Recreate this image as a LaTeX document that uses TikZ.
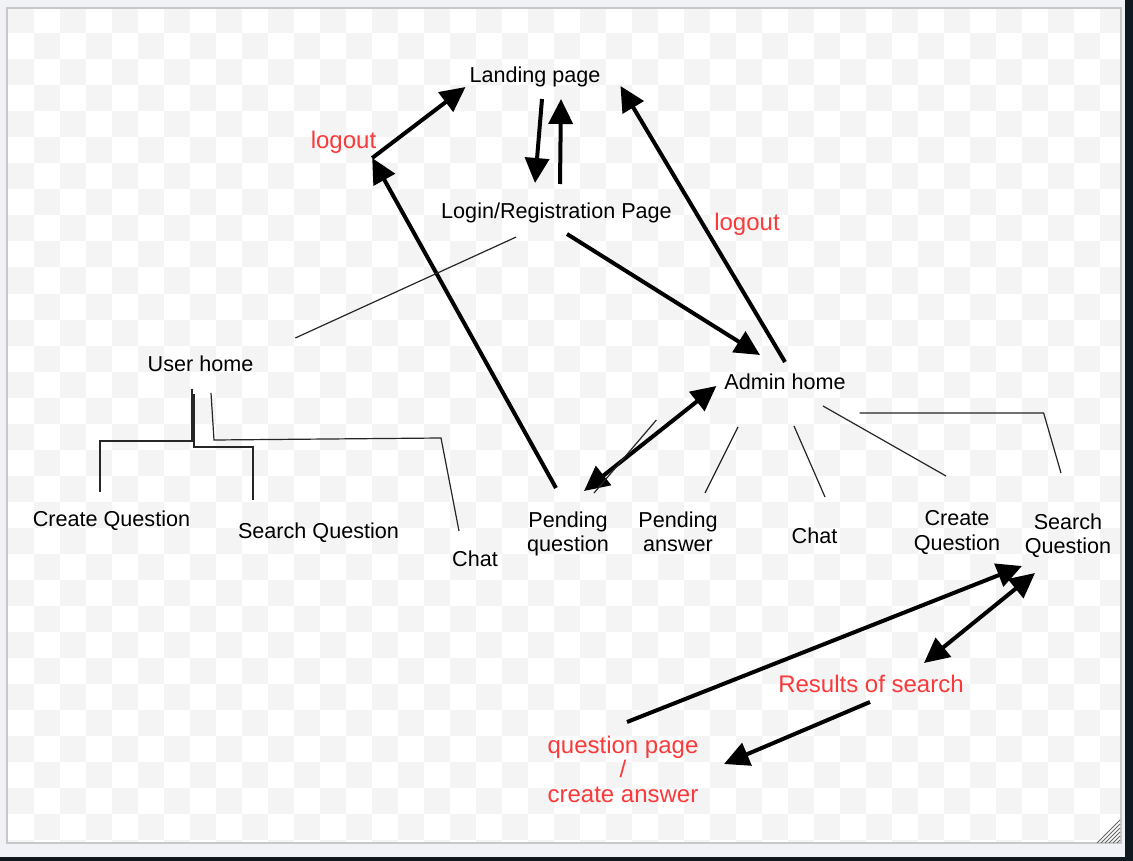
\documentclass[tikz,border=0pt]{standalone}
\usepackage{fontspec}
\setmainfont{Liberation Sans}
\usepackage{xcolor}
\usetikzlibrary{arrows.meta}

\begin{document}
\begin{tikzpicture}[x=1pt, y=-1pt,
    every node/.style={font=\fontsize{21.6pt}{24.5pt}\selectfont, inner sep=0pt, outer sep=0pt},
    page/.style={anchor=base, text height=15.5pt, text depth=4.5pt},
    pagetwo/.style={anchor=north, align=center},
    note/.style={page, text=notered, font=\fontsize{24pt}{24.5pt}\selectfont},
    flow/.style={line width=4pt, -{Triangle[length=25pt,width=24pt]}},
    twoway/.style={line width=4pt, {Triangle[length=25pt,width=24pt]}-{Triangle[length=25pt,width=24pt]}},
    link/.style={line width=1.2pt, black!85}]
    % Define colors
    \definecolor{notered}{RGB}{250,58,58}
    \definecolor{outerbg}{RGB}{241,242,245}
    \definecolor{darkedge}{RGB}{16,24,32}
    \definecolor{framegray}{RGB}{200,200,200}
    \definecolor{checkgray}{RGB}{244,244,244}

    \useasboundingbox (0,0) rectangle (1133,861);

    % Window background and frame
    \fill[outerbg] (0,0) rectangle (1133,861);
    \fill[darkedge] (1125,0) rectangle (1133,861);
    \fill[darkedge] (0,857) rectangle (1133,861);
    \fill[white] (7,8) rectangle (1121,843);

    % Checkerboard canvas
    \begin{scope}
        \clip (7,8) rectangle (1121,843);
        \foreach \i in {0,...,42} {
            \pgfmathtruncatemacro{\odd}{mod(\i,2)}
            \foreach \j in {0,2,...,32} {
                \fill[checkgray] ({7.5+26*\i},{7.5+26*(\j+\odd)}) rectangle +(26,26);
            }
        }
    \end{scope}
    \draw[framegray, line width=1.5pt] (7,8) rectangle (1121,843);

    % Resize grip
    \foreach \k in {0,...,5} {
        \draw[black!60, line width=1pt] (1120,{820+4*\k}) -- ({1097+4*\k},843);
    }

    % Top pages
    \node[page] (landing) at (535,83) {Landing page};
    \node[page] (login) at (556.5,219) {Login/Registration Page};
    \node[note] (logoutleft) at (343.5,149) {logout};
    \node[note] (logoutright) at (747,231) {logout};

    % Home pages
    \node[page] (userhome) at (200.5,371) {User home};
    \node[page] (adminhome) at (785,389) {Admin home};

    % User home children
    \node[page] (usercreate) at (111.5,526) {Create Question};
    \node[page] (usersearch) at (318.5,538) {Search Question};
    \node[page] (userchat) at (475,566) {Chat};

    % Admin home children
    \node[pagetwo] (pendq) at (568,511.5) {Pending\\question};
    \node[pagetwo] (penda) at (678,511.5) {Pending\\answer};
    \node[page] (adminchat) at (814.5,543) {Chat};
    \node[pagetwo] (admincreate) at (957,510.5) {Create\\Question};
    \node[pagetwo] (adminsearch) at (1068,513.5) {Search\\Question};

    % Search results
    \node[note] (results) at (871,692) {Results of search};
    \node[pagetwo, text=notered, font=\fontsize{24pt}{24.5pt}\selectfont] (qpage) at (623,736) {question page\\/\\create answer};

    % Logout from pending question
    \coordinate (logoutbend) at ([xshift=-4pt,yshift=-4.5pt]logoutleft.south east);
    \draw[flow] ([xshift=-12pt,yshift=23.5pt]pendq.north) -- (logoutbend);
    \draw[flow] (logoutbend) -- ([xshift=-4pt,yshift=0.5pt]landing.south west);

    % Landing <-> login
    \draw[flow] ([xshift=7pt,yshift=-11.5pt]landing.south) -- ([xshift=-21.5pt,yshift=20.5pt]login.north);
    \draw[flow] ([xshift=3.5pt,yshift=19.5pt]login.north) -- ([xshift=26pt,yshift=-11.5pt]landing.south);

    % Login to admin, admin logout
    \draw[flow] ([xshift=10.5pt,yshift=-10.5pt]login.south) -- ([xshift=-25pt,yshift=18.5pt]adminhome.north);
    \draw[flow] ([yshift=11.5pt]adminhome.north) -- ([xshift=20pt,yshift=1.5pt]landing.south east);

    % Login to user home
    \draw[link] ([xshift=75pt,yshift=-13.5pt]login.south west) -- ([xshift=42pt,yshift=27.5pt]userhome.east);

    % User home links
    \draw[link] ([xshift=-8.5pt,yshift=-13.5pt]userhome.south) -- ++(0,52) -| ([xshift=-11.5pt,yshift=18.5pt]usercreate.north);
    \draw[link] ([xshift=-6.5pt,yshift=-18.5pt]userhome.south) -- ++(0,53) -| ([xshift=-65.5pt,yshift=22.5pt]usersearch.north);
    \draw[link] ([xshift=10.5pt,yshift=-17.5pt]userhome.south) -- ++(3,47) -- ++(227,-2) -- ([xshift=-16pt,yshift=19.5pt]userchat.north);

    % Admin home links
    \draw[twoway] ([xshift=16pt,yshift=20.5pt]pendq.north) -- ([xshift=-8pt,yshift=-2.5pt]adminhome.west);
    \draw[link] ([xshift=26pt,yshift=18.5pt]pendq.north) -- ([xshift=-68pt,yshift=-26.5pt]adminhome.south west);
    \draw[link] ([xshift=-47pt,yshift=-33.5pt]adminhome.south) -- ([xshift=27pt,yshift=18.5pt]penda.north);
    \draw[link] ([xshift=9pt,yshift=-32.5pt]adminhome.south) -- ([xshift=10.5pt,yshift=30.5pt]adminchat.north);
    \draw[link] ([xshift=38pt,yshift=-12.5pt]adminhome.south) -- ([xshift=-11pt,yshift=34.5pt]admincreate.north);
    \draw[link] ([xshift=14pt,yshift=-19.5pt]adminhome.south east) -- ++(184,0) -- ([xshift=-7pt,yshift=40.5pt]adminsearch.north);

    % Search flow
    \draw[twoway] ([xshift=-33pt,yshift=-59.5pt]adminsearch.north) -- ([xshift=53pt,yshift=13.5pt]results.north);
    \draw[flow] ([xshift=4pt,yshift=14pt]qpage.north) -- ([xshift=-46pt,yshift=-52.5pt]adminsearch.north);
    \draw[flow] ([xshift=-1pt,yshift=-5.5pt]results.south) -- ([xshift=101pt,yshift=-28pt]qpage.north);
\end{tikzpicture}
\end{document}
